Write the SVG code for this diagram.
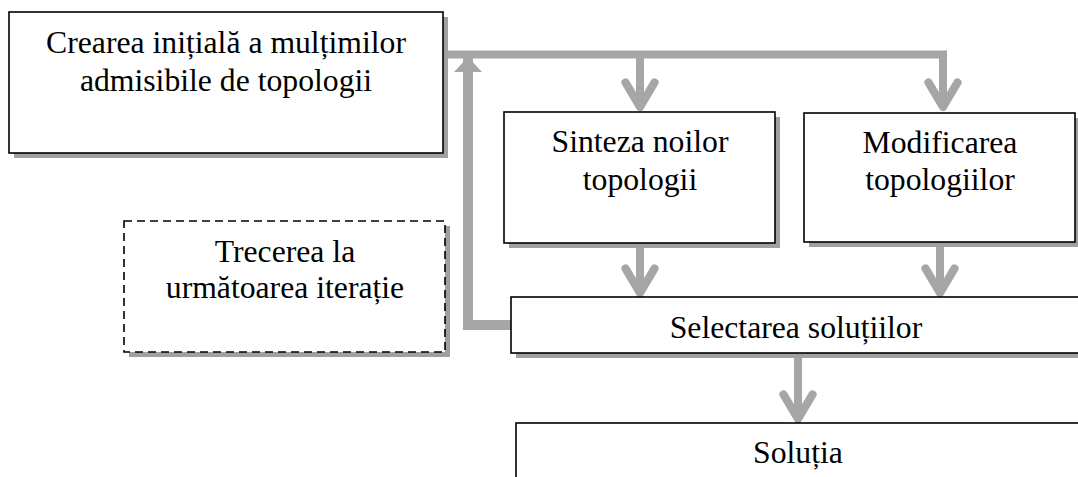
<svg xmlns="http://www.w3.org/2000/svg" width="1078" height="477" viewBox="0 0 1078 477">
<style>
.box{fill:#ffffff;stroke:#000000;stroke-width:1.6}
.dash{stroke-dasharray:8,5}
.shadow{fill:#a0a0a0}
.t{font-family:"Liberation Serif","Times New Roman",serif;font-size:31.7px;fill:#000000;text-anchor:middle}
.conn{fill:none;stroke:#a6a6a6;stroke-width:8;stroke-linejoin:miter}
.fb{fill:none;stroke:#a6a6a6;stroke-width:10;stroke-linejoin:miter}
</style>
<defs>
<marker id="chev" markerUnits="userSpaceOnUse" orient="auto" markerWidth="40" markerHeight="40" viewBox="-40 -20 44 40" refX="0" refY="0" overflow="visible">
<path d="M-27,-16 L0,0 L-27,16" fill="none" stroke="#a6a6a6" stroke-width="9" stroke-linecap="round" stroke-linejoin="round"/>
</marker>
<marker id="tri" markerUnits="userSpaceOnUse" orient="auto" markerWidth="40" markerHeight="40" viewBox="-20 -20 40 40" refX="0" refY="0" overflow="visible">
<path d="M-15,-14 L0,0 L-15,14 Z" fill="#a6a6a6"/>
</marker>
</defs>
<rect width="1078" height="477" fill="#ffffff"/>
<g id="connectors">
<path class="conn" d="M443,54.5 H943 V107" marker-end="url(#chev)"/>
<path class="conn" d="M640,54.5 V107" marker-end="url(#chev)"/>
<path class="conn" d="M640,243 V293" marker-end="url(#chev)"/>
<path class="conn" d="M940,242 V293" marker-end="url(#chev)"/>
<path class="conn" d="M798,355 V419" marker-end="url(#chev)"/>
<path class="fb" d="M511,325 H468 V57" marker-end="url(#tri)"/>
</g>
<g id="node-creare">
<rect class="shadow" x="14" y="17" width="434" height="141"/>
<rect class="box" x="9" y="12" width="434" height="141"/>
<text class="t" x="226" y="53">Crearea inițială a mulțimilor</text>
<text class="t" x="226" y="91">admisibile de topologii</text>
</g>
<g id="node-sinteza">
<rect class="shadow" x="509" y="117" width="271" height="131"/>
<rect class="box" x="504" y="112" width="271" height="131"/>
<text class="t" x="640" y="152">Sinteza noilor</text>
<text class="t" x="640" y="190">topologii</text>
</g>
<g id="node-modificare">
<rect class="shadow" x="809" y="118" width="271" height="129"/>
<rect class="box" x="804" y="113" width="271" height="129"/>
<text class="t" x="940" y="153">Modificarea</text>
<text class="t" x="940" y="190">topologiilor</text>
</g>
<g id="node-trecere">
<rect class="shadow" x="129" y="226" width="321" height="131"/>
<rect class="box dash" x="124" y="221" width="321" height="131"/>
<text class="t" x="285" y="262">Trecerea la</text>
<text class="t" x="285" y="298">următoarea iterație</text>
</g>
<g id="node-selectare">
<rect class="shadow" x="516" y="302" width="600" height="56"/>
<rect class="box" x="511" y="297" width="600" height="56"/>
<text class="t" x="796" y="338">Selectarea soluțiilor</text>
</g>
<g id="node-solutia">
<rect class="box" x="516" y="423" width="600" height="80"/>
<text class="t" x="798" y="463">Soluția</text>
</g>
</svg>
